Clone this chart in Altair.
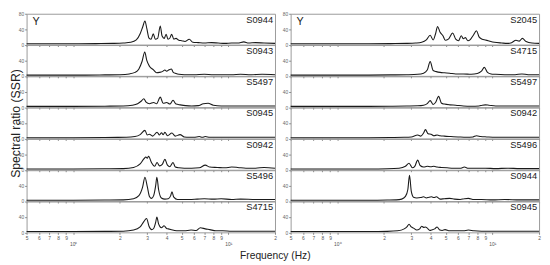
import altair as alt
import pandas as pd

# ---------------- data ----------------
left_names = ["S0944", "S0943", "S5497", "S0945", "S0942", "S5496", "S4715"]
right_names = ["S2045", "S4715", "S5497", "S0942", "S5496", "S0944", "S0945"]

L1_f = [0.5, 0.7, 1.0, 1.4, 1.8, 2.1, 2.35, 2.55, 2.7, 2.8, 2.9, 2.98, 3.08, 3.18, 3.28, 3.38, 3.5, 3.64, 3.74, 3.86, 3.97, 4.08, 4.2, 4.31, 4.45, 4.6, 4.8, 5.0, 5.25, 5.6, 5.9, 6.4, 7.0, 7.8, 8.6, 9.5, 10.5, 11.5, 12.6, 13.5, 15.0, 17.0, 20.0]
L1_v = [2, 2, 2, 2.5, 3, 4, 6, 12, 28, 45, 61, 42, 17, 14, 28, 14, 16, 48, 22, 16, 27, 14, 17, 27, 14, 16, 11, 10, 8, 14, 6, 5, 4, 5, 4, 3, 4, 4, 7, 4, 5, 4, 3]

L2_f = [0.5, 0.8, 1.2, 1.6, 2.0, 2.3, 2.5, 2.65, 2.78, 2.89, 2.98, 3.1, 3.28, 3.45, 3.6, 3.75, 3.9, 4.0, 4.15, 4.3, 4.4, 4.6, 4.8, 5.2, 6.0, 7.0, 8.0, 9.0, 10.5, 12, 14, 16.5, 20]
L2_v = [2, 2, 2, 2.5, 3, 5, 9, 18, 38, 62, 40, 25, 16, 8, 9, 11, 15, 12, 16, 18, 10, 6, 4, 3, 3, 4, 3, 3, 3, 4, 3, 4, 3]

L3_f = [0.5, 1.0, 1.6, 2.1, 2.4, 2.6, 2.75, 2.85, 2.95, 3.1, 3.3, 3.45, 3.64, 3.8, 4.0, 4.2, 4.4, 4.6, 4.9, 5.3, 5.8, 6.4, 6.9, 7.4, 8.0, 9.0, 10.5, 12.5, 15, 20]
L3_v = [2, 2, 2.5, 3, 5, 9, 16, 22, 13, 9, 12, 9, 26, 10, 12, 8, 18, 8, 6, 4, 3, 4, 9, 10, 5, 3, 3, 3, 3, 3]

L4_f = [0.5, 1.0, 1.6, 2.2, 2.5, 2.7, 2.9, 3.0, 3.1, 3.25, 3.47, 3.6, 3.71, 3.8, 3.9, 4.05, 4.33, 4.55, 4.88, 5.2, 5.6, 6.0, 6.5, 6.8, 7.1, 7.6, 8.5, 10, 12, 15, 20]
L4_v = [2, 2, 2.5, 3, 5, 10, 21, 9, 11, 6, 16, 9, 15, 10, 16, 7, 14, 6, 10, 4, 3, 3, 5, 3, 5, 3, 3, 3, 3, 3, 3]

L5_f = [0.5, 1.0, 1.6, 2.1, 2.45, 2.7, 2.85, 2.94, 3.0, 3.06, 3.2, 3.35, 3.47, 3.6, 3.75, 3.9, 4.05, 4.2, 4.4, 4.55, 4.8, 5.2, 5.8, 6.5, 7.1, 7.6, 8.5, 9.5, 10.5, 11.5, 13, 15, 17, 20]
L5_v = [2, 2, 2.5, 3, 6, 15, 28, 33, 30, 35, 18, 9, 19, 10, 14, 27, 12, 8, 19, 7, 5, 4, 4, 5, 12, 7, 6, 5, 7, 6, 4, 4, 6, 4]

L6_f = [0.5, 1.0, 1.6, 2.1, 2.45, 2.65, 2.8, 2.9, 3.0, 3.1, 3.2, 3.3, 3.4, 3.46, 3.55, 3.7, 3.9, 4.1, 4.25, 4.33, 4.45, 4.7, 5.1, 5.6, 6.3, 7.0, 8.0, 9.0, 10.5, 12, 15, 20]
L6_v = [2, 2, 2.5, 3, 6, 14, 36, 62, 38, 12, 7, 14, 40, 62, 30, 8, 5, 6, 14, 24, 10, 4, 4, 4, 5, 6, 5, 6, 4, 5, 4, 4]

L7_f = [0.5, 1.0, 1.6, 2.1, 2.45, 2.7, 2.85, 2.97, 3.08, 3.2, 3.3, 3.4, 3.46, 3.55, 3.7, 3.85, 4.0, 4.1, 4.3, 4.5, 4.8, 5.2, 5.75, 6.2, 6.6, 7.1, 7.6, 8.3, 9.2, 10.5, 12, 15, 20]
L7_v = [2, 2, 2.5, 3, 6, 14, 28, 36, 16, 7, 10, 26, 40, 22, 12, 17, 10, 9, 7, 5, 4, 4, 6, 5, 12, 9, 7, 4, 4, 3, 3, 3, 3]

R1_f = [0.5, 1.0, 1.6, 2.2, 2.8, 3.2, 3.5, 3.75, 3.97, 4.15, 4.3, 4.43, 4.6, 4.8, 4.97, 5.2, 5.55, 5.8, 6.05, 6.3, 6.5, 6.7, 6.95, 7.2, 7.5, 7.9, 8.2, 8.6, 9.0, 9.4, 10.3, 11.5, 12.5, 13.3, 14.2, 14.9, 15.6, 16.5, 18, 20]
R1_v = [2, 2, 2, 2.5, 3, 4, 6, 12, 24, 12, 28, 47, 32, 23, 11, 14, 30, 14, 10, 23, 15, 18, 10, 13, 23, 36, 20, 14, 12, 10, 6, 4, 3, 5, 11, 9, 16, 8, 4, 3]

R2_f = [0.5, 1.0, 1.6, 2.2, 2.8, 3.3, 3.6, 3.8, 3.97, 4.15, 4.35, 4.6, 4.9, 5.3, 5.8, 6.5, 7.3, 8.0, 8.5, 8.87, 9.3, 9.8, 10.5, 12, 14, 15.5, 17, 20]
R2_v = [2, 2, 2, 2.5, 3, 4, 7, 15, 37, 14, 11, 9, 8, 7, 5, 5, 4, 6, 12, 22, 9, 5, 4, 3, 3, 5, 3, 3]

R3_f = [0.5, 1.0, 1.6, 2.2, 2.8, 3.3, 3.6, 3.8, 3.97, 4.15, 4.3, 4.5, 4.7, 4.9, 5.3, 5.8, 6.5, 7.3, 8.2, 8.6, 9.0, 9.5, 10.5, 12, 15, 20]
R3_v = [2, 2, 2, 2.5, 3, 3.5, 5, 9, 17, 7, 12, 28, 10, 8, 6, 5, 3, 2.5, 3, 5, 6, 5, 3, 3, 3, 3]

R4_f = [0.5, 1.0, 1.6, 2.2, 2.7, 3.0, 3.3, 3.45, 3.6, 3.7, 3.85, 4.02, 4.2, 4.4, 4.6, 4.9, 5.4, 6.0, 6.8, 7.5, 7.9, 8.4, 9.2, 10.5, 12, 15, 20]
R4_v = [2, 2, 2, 2.5, 3, 4, 9, 6, 14, 23, 12, 11, 7, 9, 7, 6, 5, 4, 3, 4, 7, 5, 4, 3, 3, 3, 3]

R5_f = [0.5, 1.0, 1.6, 2.1, 2.5, 2.75, 2.9, 3.05, 3.15, 3.3, 3.42, 3.6, 3.8, 4.0, 4.2, 4.4, 4.7, 5.1, 5.6, 6.2, 6.6, 7.0, 7.8, 9.0, 10.5, 12.5, 15, 20]
R5_v = [2, 2, 2, 2.5, 4, 9, 17, 5, 8, 25, 11, 7, 9, 8, 9, 7, 6, 5, 4, 4, 7, 4, 4, 4, 3, 4, 3, 3]

R6_f = [0.5, 1.0, 1.6, 2.1, 2.4, 2.6, 2.75, 2.85, 2.92, 3.0, 3.1, 3.25, 3.45, 3.6, 3.75, 3.9, 4.05, 4.2, 4.35, 4.6, 4.9, 5.3, 5.7, 6.2, 6.6, 7.0, 7.6, 8.5, 10, 12, 15, 20]
R6_v = [2, 2, 2, 2.5, 3, 5, 12, 30, 67, 25, 10, 8, 9, 11, 8, 10, 11, 9, 11, 5, 6, 7, 5, 4, 6, 7, 4, 4, 3, 4, 3, 3]

R7_f = [0.5, 1.0, 1.6, 2.1, 2.45, 2.7, 2.82, 2.9, 3.0, 3.1, 3.25, 3.4, 3.5, 3.6, 3.7, 3.8, 3.95, 4.1, 4.25, 4.4, 4.55, 4.75, 4.95, 5.3, 5.9, 6.5, 7.0, 7.6, 8.5, 10, 12, 15, 20]
R7_v = [2, 2, 2, 2.5, 4, 9, 15, 21, 14, 11, 6, 9, 16, 13, 14, 11, 5, 7, 9, 14, 7, 5, 7, 4, 4, 4, 6, 4, 3, 3, 3, 3, 3]

x_ticks = [0.5, 0.6, 0.7, 0.8, 0.9, 1, 2, 3, 4, 5, 6, 7, 8, 9, 10, 20]
y_ticks = [0, 40, 80]

left_data = [(L1_f, L1_v), (L2_f, L2_v), (L3_f, L3_v), (L4_f, L4_v), (L5_f, L5_v), (L6_f, L6_v), (L7_f, L7_v)]
right_data = [(R1_f, R1_v), (R2_f, R2_v), (R3_f, R3_v), (R4_f, R4_v), (R5_f, R5_v), (R6_f, R6_v), (R7_f, R7_v)]

# ---------------- layout ----------------
W = 254
H = 31.5
FONT = "Liberation Sans"

x_label_expr = (
    "datum.value == 1 ? ['', '10\u2070'] : datum.value == 10 ? ['', '10\u00b9'] : "
    "datum.value < 1 ? '' + round(datum.value * 10) : datum.value >= 20 ? '2' : '' + round(datum.value)"
)


def panel(freqs, vals, name, first, bottom, ytitle):
    df = pd.DataFrame({"f": freqs, "v": vals})
    xaxis = alt.Axis(
        values=x_ticks, labels=bottom, ticks=True, tickSize=2, tickColor="#888",
        domain=False, grid=False, title=None, labelFontSize=5, labelColor="#555",
        labelPadding=1, labelExpr=x_label_expr, labelOverlap=False, labelFlush=False,
        labelFont=FONT, labelLineHeight=6,
    )
    yargs = dict(
        values=y_ticks if first else [0, 40], ticks=True, tickSize=2, tickColor="#888",
        domain=False, grid=False, labelFontSize=5, labelColor="#666", labelPadding=1,
        labelFont=FONT, labelOverlap=False,
    )
    if ytitle:
        yaxis = alt.Axis(title="Spectral ratio (SSR)", titleFont=FONT, titleFontSize=12.5,
                         titleFontWeight="normal", titleColor="#222", titleX=-11.5,
                         titleBaseline="middle", **yargs)
    else:
        yaxis = alt.Axis(title=None, **yargs)
    line = alt.Chart(df).mark_line(color="#1a1a1a", strokeWidth=1.1, interpolate="monotone").encode(
        x=alt.X("f:Q", scale=alt.Scale(type="log", domain=[0.5, 20], nice=False), axis=xaxis),
        y=alt.Y("v:Q", scale=alt.Scale(domain=[0, 80], nice=False), axis=yaxis),
    )
    lab = alt.Chart(pd.DataFrame({"t": [name]})).mark_text(
        align="right", baseline="top", fontSize=9.5, font=FONT, color="#222"
    ).encode(x=alt.value(W - 2), y=alt.value(1), text="t:N")
    layers = [line, lab]
    if first:
        ylab = alt.Chart(pd.DataFrame({"t": ["Y"]})).mark_text(
            align="left", baseline="top", fontSize=11, font=FONT, color="#222"
        ).encode(x=alt.value(6), y=alt.value(2), text="t:N")
        layers.append(ylab)
    return alt.layer(*layers).properties(width=W, height=H)


left_panels = []
for i, (nm, (f, v)) in enumerate(zip(left_names, left_data)):
    left_panels.append(panel(f, v, nm, i == 0, i == 6, i == 3))
left_col = alt.vconcat(*left_panels, spacing=0, bounds="flush")

right_panels = []
for i, (nm, (f, v)) in enumerate(zip(right_names, right_data)):
    right_panels.append(panel(f, v, nm, i == 0, i == 6, False))
right_col = alt.vconcat(*right_panels, spacing=0, bounds="flush")

chart = alt.hconcat(left_col, right_col, spacing=3).properties(
    padding=0,
    title=alt.TitleParams(
        "Frequency (Hz)", orient="bottom", anchor="middle", fontSize=10.5, font=FONT,
        fontWeight="normal", color="#222", offset=5,
    ),
).configure_view(stroke="#9a9a9a", strokeWidth=1)

chart.save("out.html", embed_options={"renderer": "svg", "actions": False})
